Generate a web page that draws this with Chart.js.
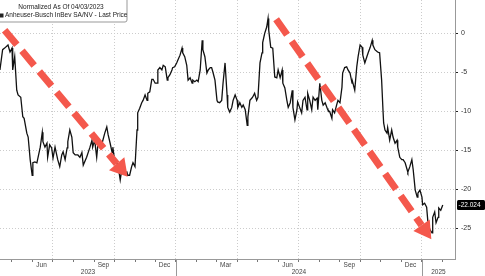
<!DOCTYPE html>
<html>
<head>
<meta charset="utf-8">
<script src="https://cdn.jsdelivr.net/npm/chart.js@4.4.1/dist/chart.umd.min.js"></script>
<style>
  html, body { margin: 0; padding: 0; background: #fff; }
</style>
</head>
<body>
<canvas id="graficoAbi" width="485" height="276"></canvas>
<script>
// dias desde 2023-01-01
const days = [
  103,107,110,115,118,121,122,125,128,130,134,137,139,143,145,148,151,152,155,158,
  163,166,167,170,173,174,177,180,182,185,189,192,195,197,200,203,204,207,210,212,
  215,219,222,225,227,232,237,240,241,244,247,249,255,259,262,264,267,270,271,274,
  277,279,282,285,286,292,293,296,299,301,304,307,308,311,314,316,319,322,323,326,
  329,331,334,337,338,341,344,346,349,352,353,356,359,360,363,366,368,371,374,375,
  378,381,383,386,389,390,393,396,398,401,404,405,408,411,413,416,418,420,423,426,
  427,430,433,435,438,441,442,445,448,450,453,456,457,460,463,465,468,471,472,475,
  478,479,482,485,487,490,493,494,497,500,502,503,506,509,512,515,517,520,523,524,
  527,530,532,535,538,539,542,545,546,549,552,554,557,560,561,564,567,569,572,575,
  576,579,582,584,587,590,591,594,597,598,601,604,606,609,612,613,616,619,621,624,
  627,628,631,634,636,639,642,643,646,649,651,654,657,658,661,665,668,671,673,674,
  676,679,680,683,686,688,691,694,695,698,701,703,706,709,710,713,716,718,721,724,
  725,728,731,732,735,738,740,743,746,747,750,752,755,756,759,762
];
const values = [
  -4.7,-2.1,-1.9,-1.5,-2.4,-1.9,-4.7,-3.0,-7.3,-7.9,-8.2,-10.7,-10.9,-12.8,-13.3,-16.2,-18.2,-16.6,-16.5,-16.6,
  -14.6,-12.7,-13.9,-14.6,-14.1,-15.9,-14.3,-14.7,-16.0,-14.6,-16.2,-17.1,-15.6,-15.2,-16.2,-14.7,-13.9,-12.4,-13.3,-15.3,
  -15.6,-15.6,-15.9,-15.3,-16.9,-15.9,-14.6,-13.7,-14.6,-13.7,-15.9,-14.1,-14.1,-12.8,-12.0,-13.0,-14.1,-15.3,-14.6,-16.5,
  -16.6,-17.1,-18.8,-17.1,-17.9,-17.8,-18.2,-18.2,-17.1,-16.6,-17.1,-12.4,-10.2,-9.6,-8.9,-8.6,-7.9,-8.6,-7.7,-7.5,
  -5.9,-5.9,-6.4,-6.4,-4.7,-4.4,-4.7,-4.1,-4.3,-6.0,-5.7,-5.3,-4.7,-4.4,-4.3,-3.8,-3.4,-2.8,-1.9,-2.5,
  -3.0,-4.1,-6.0,-5.7,-6.4,-6.0,-6.2,-6.0,-6.2,-4.7,-0.9,-2.1,-3.0,-5.1,-4.7,-4.4,-4.4,-5.0,-6.0,-8.6,
  -8.8,-8.9,-8.6,-6.4,-3.8,-7.9,-9.5,-10.1,-9.5,-8.6,-7.9,-8.6,-9.5,-8.9,-9.5,-9.2,-9.8,-11.8,-10.7,-8.6,
  -8.3,-8.2,-7.7,-8.6,-8.2,-3.8,-2.5,-1.2,0.0,0.8,1.9,0.4,-1.8,-1.9,-5.6,-5.7,-4.7,-5.7,-4.7,-6.4,
  -7.0,-8.6,-9.5,-8.9,-7.3,-9.5,-11.1,-9.8,-8.8,-9.5,-10.2,-8.6,-8.2,-9.8,-7.7,-8.6,-9.8,-8.2,-8.6,-8.3,
  -9.8,-6.4,-8.6,-9.2,-8.9,-9.6,-9.8,-10.1,-10.9,-9.8,-10.2,-9.2,-8.6,-8.9,-6.9,-5.1,-4.4,-4.3,-4.7,-5.1,
  -6.4,-6.3,-7.3,-4.3,-3.0,-1.5,-1.8,-2.8,-3.8,-3.0,-2.5,-1.8,-0.9,-1.5,-2.1,-2.4,-2.5,-6.0,-9.8,-11.5,
  -12.4,-12.8,-12.1,-13.7,-12.4,-13.3,-14.1,-13.7,-14.6,-15.9,-16.2,-16.2,-16.6,-17.5,-17.8,-17.1,-16.2,-17.5,-20.1,-21.0,
  -20.5,-20.1,-21.0,-22.0,-21.8,-22.3,-24.3,-25.2,-25.6,-23.6,-22.9,-24.3,-23.6,-22.4,-22.7,-22.024
];
const yTicks = [0, -5, -10, -15, -20, -25];
const monthLabels = ['Jun', 'Sep', 'Dec', 'Mar', 'Jun', 'Sep', 'Dec'];
const monthDates = ['2023-06-15', '2023-09-15', '2023-12-15', '2024-03-15', '2024-06-15', '2024-09-15', '2024-12-15'];
const yearLabels = ['2023', '2024', '2025'];
const lastPrice = -22.024;
const legendTitle = 'Normalized As Of 04/03/2023';
const seriesName = 'Anheuser-Busch InBev SA/NV - Last Price';
// setas: [dia inicio, valor inicio, dia fim, valor fim]
const seta1 = [110, 0.4, 293, -18.4];
const seta2 = [514, 1.8, 745, -26.4];

const base = Date.UTC(2023, 0, 1);
const dia = s => (Date.UTC(+s.slice(0, 4), +s.slice(5, 7) - 1, +s.slice(8, 10)) - base) / 864e5;
const mesDe = v => new Date(base + v * 864e5).getUTCMonth();
const fonte = 'Liberation Sans, Arial, sans-serif';
const vermelho = '#f4584c';

const anotacoes = {
    id: 'anotacoes',
    afterDatasetsDraw(chart) {
        const { ctx, scales: { x, y } } = chart;
        [seta1, seta2].forEach(a => {
            const x0 = x.getPixelForValue(a[0]), y0 = y.getPixelForValue(a[1]);
            const x1 = x.getPixelForValue(a[2]), y1 = y.getPixelForValue(a[3]);
            const ang = Math.atan2(y1 - y0, x1 - x0);
            const head = 17, half = 10;
            const bx = x1 - head * Math.cos(ang), by = y1 - head * Math.sin(ang);
            ctx.save();
            ctx.strokeStyle = vermelho;
            ctx.lineWidth = 7;
            ctx.setLineDash([19, 8]);
            ctx.beginPath();
            ctx.moveTo(x0, y0);
            ctx.lineTo(bx, by);
            ctx.stroke();
            ctx.setLineDash([]);
            ctx.fillStyle = vermelho;
            ctx.beginPath();
            ctx.moveTo(x1, y1);
            ctx.lineTo(bx + half * Math.sin(ang), by - half * Math.cos(ang));
            ctx.lineTo(bx - half * Math.sin(ang), by + half * Math.cos(ang));
            ctx.closePath();
            ctx.fill();
            ctx.restore();
        });
    },
    afterDraw(chart) {
        const { ctx, chartArea: area, scales: { x, y } } = chart;
        ctx.save();

        // legenda
        ctx.fillStyle = '#fff';
        ctx.strokeStyle = '#999';
        ctx.lineWidth = 1;
        ctx.beginPath();
        ctx.roundRect(-3.5, -3.5, 130.5, 25.5, 2);
        ctx.fill();
        ctx.stroke();
        ctx.fillStyle = '#222';
        ctx.font = '6.5px ' + fonte;
        ctx.textBaseline = 'middle';
        ctx.textAlign = 'center';
        ctx.fillText(legendTitle, 61, 7);
        ctx.textAlign = 'left';
        ctx.fillRect(0, 13.5, 3.5, 4);
        ctx.fillText(seriesName, 5, 15.5);

        // meses e anos
        ctx.fillStyle = '#444';
        ctx.textAlign = 'center';
        monthDates.forEach((d, i) => ctx.fillText(monthLabels[i], x.getPixelForValue(dia(d)), area.bottom + 6));
        const cortes = [area.left, x.getPixelForValue(dia('2024-01-01')), x.getPixelForValue(dia('2025-01-01')), area.right];
        yearLabels.forEach((t, i) => ctx.fillText(t, (cortes[i] + cortes[i + 1]) / 2, area.bottom + 13.5));
        ctx.strokeStyle = '#999';
        [cortes[1], cortes[2]].forEach(px => {
            ctx.beginPath();
            ctx.moveTo(Math.round(px) + 0.5, area.bottom);
            ctx.lineTo(Math.round(px) + 0.5, 276);
            ctx.stroke();
        });

        // ultimo preco
        const py = y.getPixelForValue(lastPrice);
        ctx.fillStyle = '#000';
        ctx.beginPath();
        ctx.roundRect(area.right + 2, py - 5, 28, 10, 1.5);
        ctx.fill();
        ctx.fillStyle = '#fff';
        ctx.textAlign = 'left';
        ctx.fillText(lastPrice.toFixed(3), area.right + 3.5, py + 0.5);
        ctx.restore();
    }
};

new Chart(document.getElementById('graficoAbi'), {
    type: 'line',
    data: {
        datasets: [{
            label: seriesName,
            data: days.map((d, i) => ({ x: d, y: values[i] })),
            borderColor: '#111',
            borderWidth: 1.3,
            pointRadius: 0,
            tension: 0
        }]
    },
    options: {
        responsive: false,
        animation: false,
        devicePixelRatio: 1,
        layout: { padding: 0 },
        plugins: {
            legend: { display: false },
            tooltip: { enabled: false }
        },
        scales: {
            x: {
                type: 'linear',
                min: 103.1,
                max: 780.2,
                afterBuildTicks: s => {
                    const t = [];
                    for (let a = 2023; a <= 2025; a++) {
                        for (let m = 0; m < 12; m++) {
                            const v = (Date.UTC(a, m, 1) - base) / 864e5;
                            if (v > s.min && v < s.max) t.push({ value: v });
                        }
                    }
                    s.ticks = t;
                },
                afterFit: s => { s.height = 17; s.paddingLeft = 0; s.paddingRight = 0; },
                ticks: { display: false },
                grid: {
                    color: c => (c.tick && mesDe(c.tick.value) % 3 === 0) ? '#cccccc' : 'rgba(0,0,0,0)',
                    tickColor: '#777',
                    tickLength: 3,
                    tickBorderDash: []
                },
                border: { display: true, color: '#999', dash: [1, 2] }
            },
            y: {
                position: 'right',
                min: -28.94,
                max: 4.27,
                afterBuildTicks: s => { s.ticks = yTicks.map(v => ({ value: v })); },
                afterFit: s => { s.width = 30; s.paddingTop = 0; s.paddingBottom = 0; },
                ticks: {
                    font: { family: fonte, size: 7 },
                    color: '#333',
                    padding: 3
                },
                grid: {
                    color: '#cccccc',
                    tickColor: '#222',
                    tickLength: 3,
                    tickBorderDash: []
                },
                border: { display: true, color: '#999', dash: [1, 2] }
            }
        }
    },
    plugins: [anotacoes]
});
</script>
</body>
</html>
